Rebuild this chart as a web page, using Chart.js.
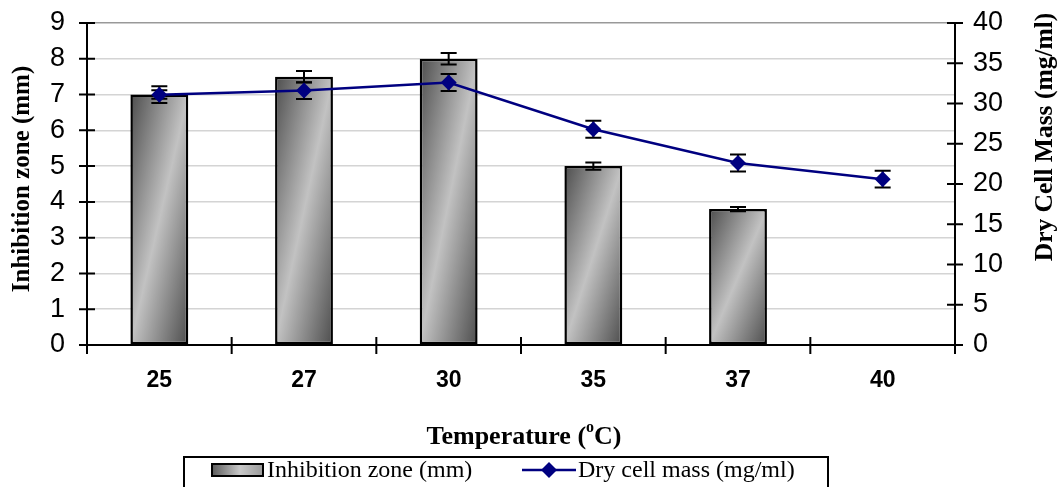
<!DOCTYPE html>
<html>
<head>
<meta charset="utf-8">
<script src="https://cdn.jsdelivr.net/npm/chart.js@4.4.1/dist/chart.umd.min.js"></script>
<style>
  html, body { margin: 0; padding: 0; background: #fff; }
  #wrap { position: relative; width: 1058px; height: 487px; }
</style>
</head>
<body>
<div id="wrap"><canvas id="chart" width="1058" height="487"></canvas></div>
<script>
// data
const temperatures = ['25', '27', '30', '35', '37', '40'];
const inhibitionZone = [7, 7.5, 8, 5, 3.8, 0];
const inhibitionErr = [0.12, 0.16, 0.16, 0.1, 0.06, 0];
const dryCellMass = [31.1, 31.6, 32.6, 26.8, 22.6, 20.6];
const dryCellMassErr = [1.05, 1.05, 1.05, 1.05, 1.05, 1.05];

const SERIF = '"Liberation Serif", "Times New Roman", serif';
const SANS = '"Liberation Sans", Arial, sans-serif';

// diagonal gray gradient for each bar
function barFill(ctx) {
  const chart = ctx.chart;
  const x = chart.scales.x, y = chart.scales.y;
  if (!x || !y || ctx.type !== 'data') return '#aaa';
  const w = (x.width / temperatures.length) * 0.4;
  const cx = x.getPixelForValue(ctx.dataIndex);
  const top = y.getPixelForValue(ctx.raw);
  const bot = y.getPixelForValue(0);
  if (![w, cx, top, bot].every(Number.isFinite) || w <= 0) return '#aaa';
  const h = Math.max(bot - top, 1);
  const cy = (top + bot) / 2;
  const k = (w * h) / (w * w + h * h);
  const g = chart.ctx.createLinearGradient(cx - h * k, cy - w * k, cx + h * k, cy + w * k);
  g.addColorStop(0, '#4d4d4d');
  g.addColorStop(0.5, '#c2c2c2');
  g.addColorStop(1, '#4d4d4d');
  return g;
}

function drawErr(c, xp, yLo, yHi) {
  c.beginPath();
  c.moveTo(xp, yLo); c.lineTo(xp, yHi);
  c.moveTo(xp - 8, yLo); c.lineTo(xp + 8, yLo);
  c.moveTo(xp - 8, yHi); c.lineTo(xp + 8, yHi);
  c.stroke();
}

const extras = {
  id: 'extras',
  afterDatasetDraw(chart, args) {
    if (args.meta.type !== 'bar') return;
    const c = chart.ctx, x = chart.scales.x, y = chart.scales.y, y2 = chart.scales.y2;
    c.save();
    c.strokeStyle = '#000';
    c.lineWidth = 2;
    inhibitionZone.forEach((v, i) => {
      if (!inhibitionErr[i]) return;
      drawErr(c, x.getPixelForValue(i), y.getPixelForValue(v - inhibitionErr[i]), y.getPixelForValue(v + inhibitionErr[i]));
    });
    dryCellMass.forEach((v, i) => {
      drawErr(c, x.getPixelForValue(i), y2.getPixelForValue(v - dryCellMassErr[i]), y2.getPixelForValue(v + dryCellMassErr[i]));
    });
    c.restore();
  },
  afterDraw(chart) {
    const c = chart.ctx, a = chart.chartArea;
    const x = chart.scales.x, y = chart.scales.y, y2 = chart.scales.y2;
    c.save();
    // tick marks crossing the axes
    c.strokeStyle = '#000';
    c.lineWidth = 2;
    c.beginPath();
    y.ticks.forEach(t => { const p = y.getPixelForValue(t.value); c.moveTo(a.left - 8, p); c.lineTo(a.left + 8, p); });
    y2.ticks.forEach(t => { const p = y2.getPixelForValue(t.value); c.moveTo(a.right - 8, p); c.lineTo(a.right + 8, p); });
    const step = (a.right - a.left) / temperatures.length;
    for (let i = 0; i <= temperatures.length; i++) {
      const p = a.left + i * step;
      c.moveTo(p, a.bottom - 8); c.lineTo(p, a.bottom + 9);
    }
    c.stroke();

    // axis titles
    c.fillStyle = '#000';
    c.textAlign = 'center';
    c.textBaseline = 'middle';
    c.font = 'bold 25px ' + SERIF;
    c.save();
    c.translate(23, 179);
    c.rotate(-Math.PI / 2);
    c.fillText('Inhibition zone (mm)', 0, 0);
    c.restore();
    c.font = 'bold 25.5px ' + SERIF;
    c.save();
    c.translate(1045, 137);
    c.rotate(-Math.PI / 2);
    c.fillText('Dry Cell Mass (mg/ml)', 0, 0);
    c.restore();

    // x title with superscript o
    const t1 = 'Temperature (', t2 = 'o', t3 = 'C)';
    c.textAlign = 'left';
    c.font = 'bold 26px ' + SERIF;
    const w1 = c.measureText(t1).width, w3 = c.measureText(t3).width;
    c.font = 'bold 16px ' + SERIF;
    const w2 = c.measureText(t2).width;
    let tx = 524 - (w1 + w2 + w3) / 2;
    c.font = 'bold 26px ' + SERIF;
    c.fillText(t1, tx, 437);
    c.font = 'bold 16px ' + SERIF;
    c.fillText(t2, tx + w1, 428);
    c.font = 'bold 26px ' + SERIF;
    c.fillText(t3, tx + w1 + w2, 437);

    // legend
    c.lineWidth = 2;
    c.strokeRect(184, 457, 644, 40);
    const lg = c.createLinearGradient(212, 0, 263, 0);
    lg.addColorStop(0, '#5a5a5a');
    lg.addColorStop(0.55, '#c8c8c8');
    lg.addColorStop(1, '#9a9a9a');
    c.fillStyle = lg;
    c.fillRect(212, 464, 51, 12);
    c.strokeRect(212, 464, 51, 12);
    c.fillStyle = '#000';
    c.font = '24px ' + SERIF;
    c.fillText('Inhibition zone (mm)', 267, 471);
    c.strokeStyle = '#000080';
    c.lineWidth = 2.5;
    c.beginPath(); c.moveTo(522, 470); c.lineTo(576, 470); c.stroke();
    c.fillStyle = '#000080';
    c.beginPath();
    c.moveTo(549, 462); c.lineTo(557, 470); c.lineTo(549, 478); c.lineTo(541, 470); c.closePath();
    c.fill();
    c.fillStyle = '#000';
    c.fillText('Dry cell mass (mg/ml)', 578, 471);
    c.restore();
  }
};

const chart = new Chart(document.getElementById('chart'), {
  type: 'bar',
  data: {
    labels: temperatures,
    datasets: [
      {
        type: 'line',
        label: 'Dry cell mass (mg/ml)',
        data: dryCellMass,
        yAxisID: 'y2',
        order: 1,
        borderColor: '#000080',
        backgroundColor: '#000080',
        borderWidth: 2.5,
        pointStyle: 'rectRot',
        pointRadius: 8,
        pointBorderWidth: 0,
        tension: 0,
      },
      {
        label: 'Inhibition zone (mm)',
        data: inhibitionZone,
        yAxisID: 'y',
        order: 2,
        backgroundColor: barFill,
        borderColor: '#000',
        borderWidth: 2.5,
        borderSkipped: false,
        categoryPercentage: 0.8,
        barPercentage: 0.5,
      },
    ],
  },
  options: {
    responsive: false,
    animation: false,
    layout: { padding: { top: 23, left: 0, right: 0, bottom: 0 } },
    plugins: { legend: { display: false }, tooltip: { enabled: false } },
    scales: {
      x: {
        afterFit: s => { s.height = 142; },
        grid: { display: false, drawTicks: false },
        border: { display: true, color: '#000', width: 2 },
        ticks: { color: '#000', padding: 22, font: { family: SANS, size: 23, weight: 'bold' } },
      },
      y: {
        position: 'left',
        min: 0, max: 9,
        afterFit: s => { s.width = 87; s.paddingTop = 0; s.paddingBottom = 0; },
        grid: {
          drawTicks: false,
          color: c => (c.tick && c.tick.value === 9 ? '#999999' : '#d4d4d4'),
          lineWidth: 1.5,
        },
        border: { display: true, color: '#000', width: 2 },
        ticks: { stepSize: 1, autoSkip: false, color: '#000', padding: 22, font: { family: SANS, size: 27 } },
      },
      y2: {
        position: 'right',
        min: 0, max: 40,
        afterFit: s => { s.width = 103; s.paddingTop = 0; s.paddingBottom = 0; },
        grid: { drawOnChartArea: false, drawTicks: false },
        border: { display: true, color: '#000', width: 2 },
        ticks: { stepSize: 5, autoSkip: false, color: '#000', padding: 18, font: { family: SANS, size: 27 } },
      },
    },
  },
  plugins: [extras],
});
</script>
</body>
</html>
